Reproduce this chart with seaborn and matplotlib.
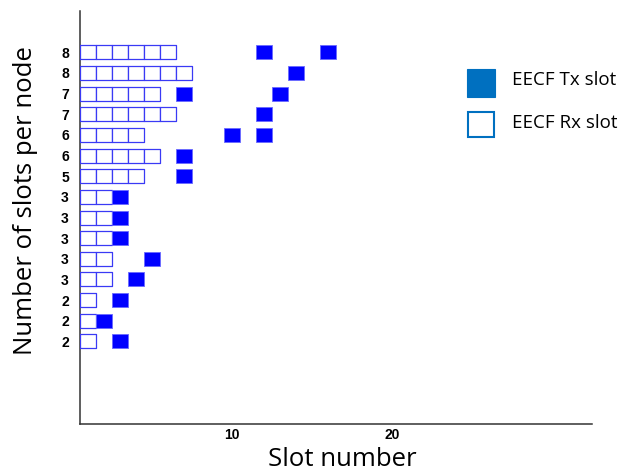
import matplotlib
matplotlib.use("Agg")
import matplotlib.pyplot as plt
from matplotlib.path import Path
from matplotlib.patches import Rectangle
import pandas as pd
import seaborn as sns

# One row per node, listed top to bottom
slots_per_node = [8, 8, 7, 7, 6, 6, 5, 3, 3, 3, 3, 3, 2, 2, 2]
rx_slot_count = [6, 7, 5, 6, 4, 5, 4, 2, 2, 2, 2, 2, 1, 1, 1]
tx_slots = [[12, 16], [14], [7, 13], [12], [10, 12], [7], [7],
            [3], [3], [3], [5], [4], [3], [2], [3]]
x_ticks = [10, 20]
legend_labels = ["EECF Tx slot", "EECF Rx slot"]

records = []
for node, (n_rx, tx) in enumerate(zip(rx_slot_count, tx_slots)):
    for s in range(1, n_rx + 1):
        records.append({"node": node, "slot": s, "kind": "Rx"})
    for s in tx:
        records.append({"node": node, "slot": s, "kind": "Tx"})
df = pd.DataFrame(records)

sns.set_style("white")
W, H = 624, 475
fig = plt.figure(figsize=(W / 100, H / 100), dpi=100)
ax = fig.add_axes([80 / W, 1 - 424 / H, 512 / W, 413 / H])

# rectangular marker: one slot wide, a little shorter than the row pitch
box = Path([(-8, -7), (8, -7), (8, 7), (-8, 7), (-8, -7)],
           [Path.MOVETO, Path.LINETO, Path.LINETO, Path.LINETO, Path.CLOSEPOLY])
msize = (16 * 0.72) ** 2

sns.scatterplot(data=df[df.kind == "Rx"], x="slot", y="node", marker=box,
                s=msize, color="white", edgecolor="#3a3af5", linewidth=0.9,
                legend=False, ax=ax, zorder=3)
sns.scatterplot(data=df[df.kind == "Tx"], x="slot", y="node", marker=box,
                s=msize, color="#0000ff", edgecolor="#6a6aff", linewidth=0.6,
                legend=False, ax=ax, zorder=3)

ax.set_xlim(0.5, 32.5)
ax.set_ylim(18, -2)
ax.set_yticks(range(len(slots_per_node)))
ax.set_yticklabels([str(v) for v in slots_per_node])
ax.set_xticks(x_ticks)
ax.set_xticklabels([str(v) for v in x_ticks])
for lab in ax.get_xticklabels() + ax.get_yticklabels():
    lab.set_fontfamily("Liberation Sans")
    lab.set_fontweight("bold")
    lab.set_fontsize(10)
    lab.set_color("black")
ax.tick_params(axis="y", length=0, pad=8)
ax.tick_params(axis="x", direction="in", length=5, width=0.8, color="#555555", pad=3)

ax.set_xlabel("Slot number", fontfamily="Open Sans", fontsize=18.5, color="black")
ax.set_ylabel("Number of slots per node", fontfamily="Open Sans", fontsize=18.5, color="black")
ax.xaxis.set_label_coords(262 / 512, -23 / 413)
ax.yaxis.set_label_coords(-42 / 512, 223 / 413)

for side in ["top", "right"]:
    ax.spines[side].set_visible(False)
for side in ["left", "bottom"]:
    ax.spines[side].set_color("#333333")
    ax.spines[side].set_linewidth(1.1)

# legend drawn beside the plot area
fig.add_artist(Rectangle((467 / W, 1 - 97 / H), 28 / W, 28 / H, transform=fig.transFigure,
                         facecolor="#0070c0", edgecolor="#0070c0", linewidth=0.8))
fig.add_artist(Rectangle((468 / W, 1 - 137 / H), 26 / W, 25 / H, transform=fig.transFigure,
                         facecolor="white", edgecolor="#0070c0", linewidth=1.5))
fig.text(512 / W, 1 - 80 / H, legend_labels[0], ha="left", va="center",
         fontfamily="Open Sans", fontsize=13.5, color="black")
fig.text(512 / W, 1 - 123 / H, legend_labels[1], ha="left", va="center",
         fontfamily="Open Sans", fontsize=13.5, color="black")

fig.savefig("out.png", dpi=100)
